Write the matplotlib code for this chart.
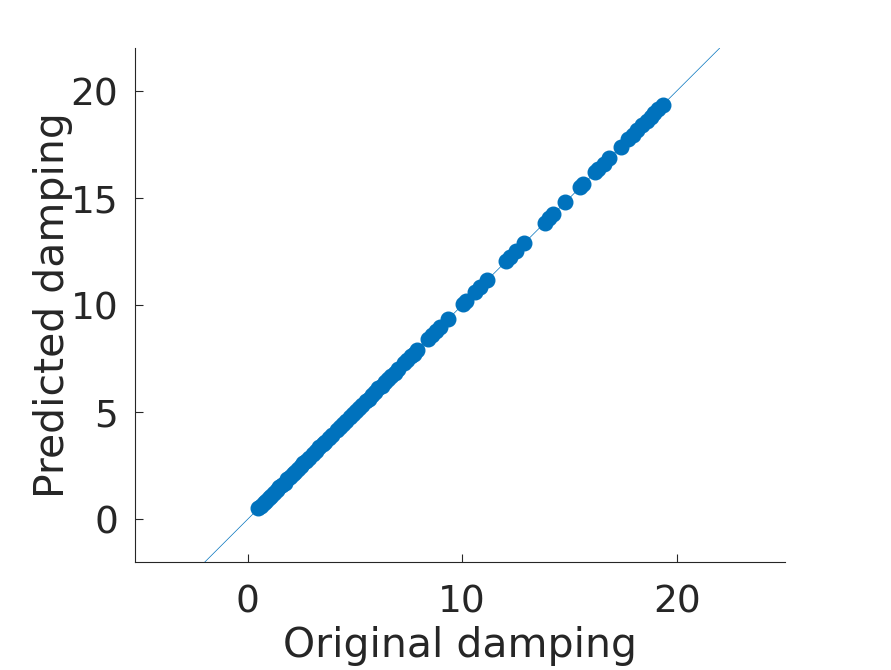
import numpy as np
import matplotlib.pyplot as plt

# Original vs. predicted damping values.
original = [0.50, 0.62, 0.75, 0.85, 0.98, 1.10, 1.22, 1.35, 1.48, 1.60,
            1.72, 1.85, 1.98, 2.10, 2.22, 2.35, 2.48, 2.60, 2.72, 2.85,
            3.05, 3.20, 3.35, 3.50, 3.62, 3.80, 3.95, 4.15, 4.30, 4.45,
            4.60, 4.75, 4.90, 5.05, 5.20, 5.35, 5.50, 5.65, 5.80, 5.95,
            6.10, 6.25, 6.40, 6.55, 6.70, 6.85, 7.00, 7.30, 7.45, 7.60,
            7.75, 7.90, 8.40, 8.60, 8.80, 8.95, 9.35, 10.05, 10.20, 10.60,
            10.85, 11.15, 12.05, 12.25, 12.50, 12.90, 13.85, 14.05, 14.25,
            14.80, 15.50, 15.65, 16.20, 16.35, 16.60, 16.85, 17.40, 17.75,
            17.95, 18.15, 18.40, 18.60, 18.80, 18.95, 19.15, 19.35]
predicted = [0.52, 0.63, 0.74, 0.86, 0.99, 1.11, 1.21, 1.36, 1.49, 1.61,
             1.71, 1.86, 1.99, 2.11, 2.23, 2.34, 2.49, 2.61, 2.73, 2.86,
             3.04, 3.21, 3.36, 3.51, 3.63, 3.81, 3.94, 4.16, 4.31, 4.44,
             4.61, 4.76, 4.91, 5.04, 5.21, 5.36, 5.51, 5.64, 5.81, 5.96,
             6.11, 6.24, 6.41, 6.56, 6.71, 6.84, 7.01, 7.31, 7.46, 7.61,
             7.74, 7.91, 8.41, 8.61, 8.79, 8.96, 9.36, 10.06, 10.21, 10.61,
             10.86, 11.16, 12.06, 12.26, 12.51, 12.91, 13.86, 14.06, 14.26,
             14.81, 15.51, 15.66, 16.21, 16.36, 16.61, 16.86, 17.41, 17.76,
             17.96, 18.16, 18.41, 18.61, 18.81, 18.96, 19.16, 19.36]
diag = [-2, 22]

plt.rcParams['font.family'] = 'DejaVu Sans'
fig = plt.figure(figsize=(8.91, 6.7), dpi=100)
ax = fig.add_axes([0.1515, 0.161, 0.7295, 0.767])

ax.plot(diag, diag, '-', color='#0072BD', lw=0.5)
ax.plot(original, predicted, 'o', color='#0072BD', ms=10.5, mec='#0072BD')

ax.set_xlim(-5.25, 25.05)
ax.set_ylim(-2, 22)
ax.set_xticks([0, 10, 20])
ax.set_yticks([0, 5, 10, 15, 20])

for s in ['top', 'right']:
    ax.spines[s].set_visible(False)
for s in ['left', 'bottom']:
    ax.spines[s].set_color('#262626')
    ax.spines[s].set_linewidth(0.8)

ax.tick_params(direction='in', length=6, width=0.8, colors='#262626',
               labelsize=27, pad=12)
ax.tick_params(axis='x', pad=16)
ax.set_xlabel('Original damping', fontsize=29.5, color='#262626', labelpad=4)
ax.set_ylabel('Predicted damping', fontsize=29.5, color='#262626', labelpad=-2)

fig.savefig('out.png', dpi=100)
